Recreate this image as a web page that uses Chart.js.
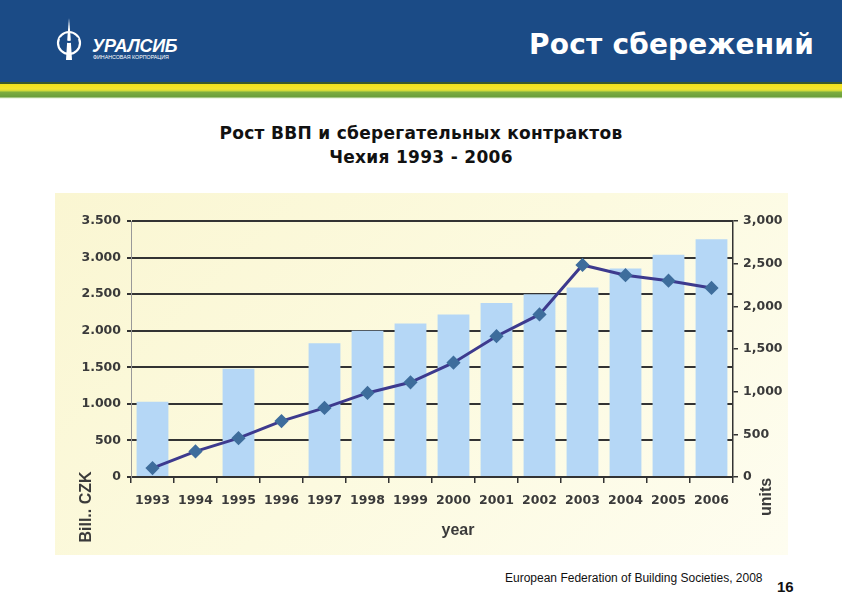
<!DOCTYPE html>
<html>
<head>
<meta charset="utf-8">
<script src="https://cdn.jsdelivr.net/npm/chart.js@4"></script>
<style>
  body { margin: 0; width: 842px; height: 596px; background: #fff; position: relative; overflow: hidden; font-family: "Liberation Sans", Arial, sans-serif; }
  #header { position: absolute; left: 0; top: 0; width: 842px; height: 82px; background: #1b4b86; }
  #stripes { position: absolute; left: 0; top: 82px; width: 842px; height: 17px;
    background: linear-gradient(to bottom, #3d5a2a 0px, #3d5a2a 2px, #f2e21c 2px, #f5e62e 7px, #c9d83a 9px, #7eae3f 10px, #6a9e3a 15px, #dfeecd 16px, #ffffff 17px); }
  #headTitle { position: absolute; right: 28px; top: 28px; color: #fff; font: bold 28px "DejaVu Sans", sans-serif; letter-spacing: 0.2px; }
  #logo { position: absolute; left: 54px; top: 16px; }
  #title { position: absolute; left: 0; width: 842px; top: 121px; text-align: center; font: bold 17px "DejaVu Sans", sans-serif; letter-spacing: 0.3px; line-height: 24px; color: #111; }
  #box { position: absolute; left: 55px; top: 193px; width: 733px; height: 362px;
    background: linear-gradient(135deg, #faf6d2 0%, #fcfadf 50%, #fefdf0 100%); }
  #source { position: absolute; left: 505px; top: 571px; font-size: 12px; color: #111; }
  #page { position: absolute; left: 777px; top: 578px; font: bold 15px "Liberation Sans", Arial, sans-serif; color: #111; }
</style>
</head>
<body>
<div id="header"></div>
<div id="stripes"></div>
<svg id="logo" width="150" height="48" viewBox="0 0 150 48">
  <g fill="none" stroke="#fff" stroke-width="2.2">
    <circle cx="15" cy="27" r="11"/>
  </g>
  <path d="M15 2 L16.5 20 L18 44 L12 44 L13.5 20 Z" fill="#fff"/>
  <path d="M6 22 Q15 30 24 22" stroke="#1b4b86" stroke-width="2" fill="none"/>
  <text x="38" y="36" fill="#fff" font-family="Liberation Sans, Arial" font-weight="bold" font-size="18" font-style="italic" letter-spacing="-0.3">УРАЛСИБ</text>
  <text x="39" y="43" fill="#fff" font-family="Liberation Sans, Arial" font-size="5.3">ФИНАНСОВАЯ КОРПОРАЦИЯ</text>
</svg>
<div id="headTitle">Рост сбережений</div>
<div id="title">Рост ВВП и сберегательных контрактов<br>Чехия 1993 - 2006</div>
<div id="box"><canvas id="chart" width="733" height="362"></canvas></div>
<div id="source">European Federation of Building Societies, 2008</div>
<div id="page">16</div>
<script>
// categories and values
var years = ['1993', '1994', '1995', '1996', '1997', '1998', '1999', '2000', '2001', '2002', '2003', '2004', '2005', '2006'];
// GDP, bill. CZK (left axis); 1994 and 1996 have no bar
var gdp = [1030, null, 1480, null, 1830, 2000, 2100, 2220, 2380, 2500, 2590, 2850, 3040, 3250];
// savings contracts, units (right axis)
var contracts = [105, 300, 455, 655, 810, 985, 1110, 1340, 1650, 1905, 2485, 2365, 2300, 2215];
var leftTicks = [0, 500, 1000, 1500, 2000, 2500, 3000, 3500];
var rightTicks = [0, 500, 1000, 1500, 2000, 2500, 3000];

function fmt(v, sep) {
    var s = String(v);
    if (v >= 1000) s = s.slice(0, s.length - 3) + sep + s.slice(-3);
    return s;
}

var tickFont = { family: '"DejaVu Sans", sans-serif', size: 12.5, weight: 'bold' };

var axisTitles = {
    id: 'axisTitles',
    afterDraw: function(chart) {
        var ctx = chart.ctx;
        var a = chart.chartArea;
        ctx.save();
        ctx.fillStyle = '#3a3a3a';
        ctx.font = 'bold 16px "Liberation Sans", Arial, sans-serif';
        ctx.textAlign = 'center';
        ctx.textBaseline = 'middle';
        ctx.fillText('year', a.left + 327, a.bottom + 54);
        ctx.translate(a.left - 44, a.bottom + 30);
        ctx.rotate(-Math.PI / 2);
        ctx.fillText('Bill.. CZK', 0, 0);
        ctx.restore();
        ctx.save();
        ctx.fillStyle = '#3a3a3a';
        ctx.font = 'bold 16px "Liberation Sans", Arial, sans-serif';
        ctx.textAlign = 'center';
        ctx.textBaseline = 'middle';
        ctx.translate(a.right + 34, a.bottom + 20);
        ctx.rotate(-Math.PI / 2);
        ctx.fillText('units', 0, 0);
        ctx.restore();
    }
};

new Chart(document.getElementById('chart'), {
    type: 'bar',
    data: {
        labels: years,
        datasets: [{
            type: 'line',
            label: 'contracts',
            data: contracts,
            yAxisID: 'y1',
            borderColor: '#3d3a8e',
            borderWidth: 3,
            pointStyle: 'rectRot',
            pointRadius: 5,
            pointBackgroundColor: '#3e6d9c',
            pointBorderColor: '#3e6d9c',
            tension: 0,
            order: 0
        }, {
            label: 'GDP',
            data: gdp,
            yAxisID: 'y',
            backgroundColor: '#b5d7f6',
            barPercentage: 0.74,
            categoryPercentage: 1,
            order: 1
        }]
    },
    options: {
        responsive: false,
        animation: false,
        layout: { padding: { top: 28 } },
        plugins: { legend: { display: false }, tooltip: { enabled: false } },
        scales: {
            x: {
                grid: { drawOnChartArea: false, drawTicks: true, tickLength: 6, color: '#333', lineWidth: 1.5 },
                border: { color: '#333', width: 2 },
                ticks: { color: '#3a3a3a', font: tickFont, padding: 10, maxRotation: 0 },
                afterFit: function(s) { s.height = 78; }
            },
            y: {
                position: 'left',
                min: 0,
                max: 3500,
                afterBuildTicks: function(s) { s.ticks = leftTicks.map(function(v) { return { value: v }; }); },
                ticks: { color: '#3a3a3a', font: tickFont, padding: 6, callback: function(v) { return fmt(v, '.'); } },
                grid: { color: '#333', lineWidth: 2, tickLength: 4 },
                border: { color: '#999', width: 1 },
                afterFit: function(s) { s.width = 76; }
            },
            y1: {
                position: 'right',
                min: 0,
                max: 3000,
                afterBuildTicks: function(s) { s.ticks = rightTicks.map(function(v) { return { value: v }; }); },
                ticks: { color: '#3a3a3a', font: tickFont, padding: 5, callback: function(v) { return fmt(v, ','); } },
                grid: { drawOnChartArea: false, color: '#333', lineWidth: 1.5, tickLength: 5 },
                border: { color: '#333', width: 1.5 },
                afterFit: function(s) { s.width = 55; }
            }
        }
    },
    plugins: [axisTitles]
});
</script>
</body>
</html>
